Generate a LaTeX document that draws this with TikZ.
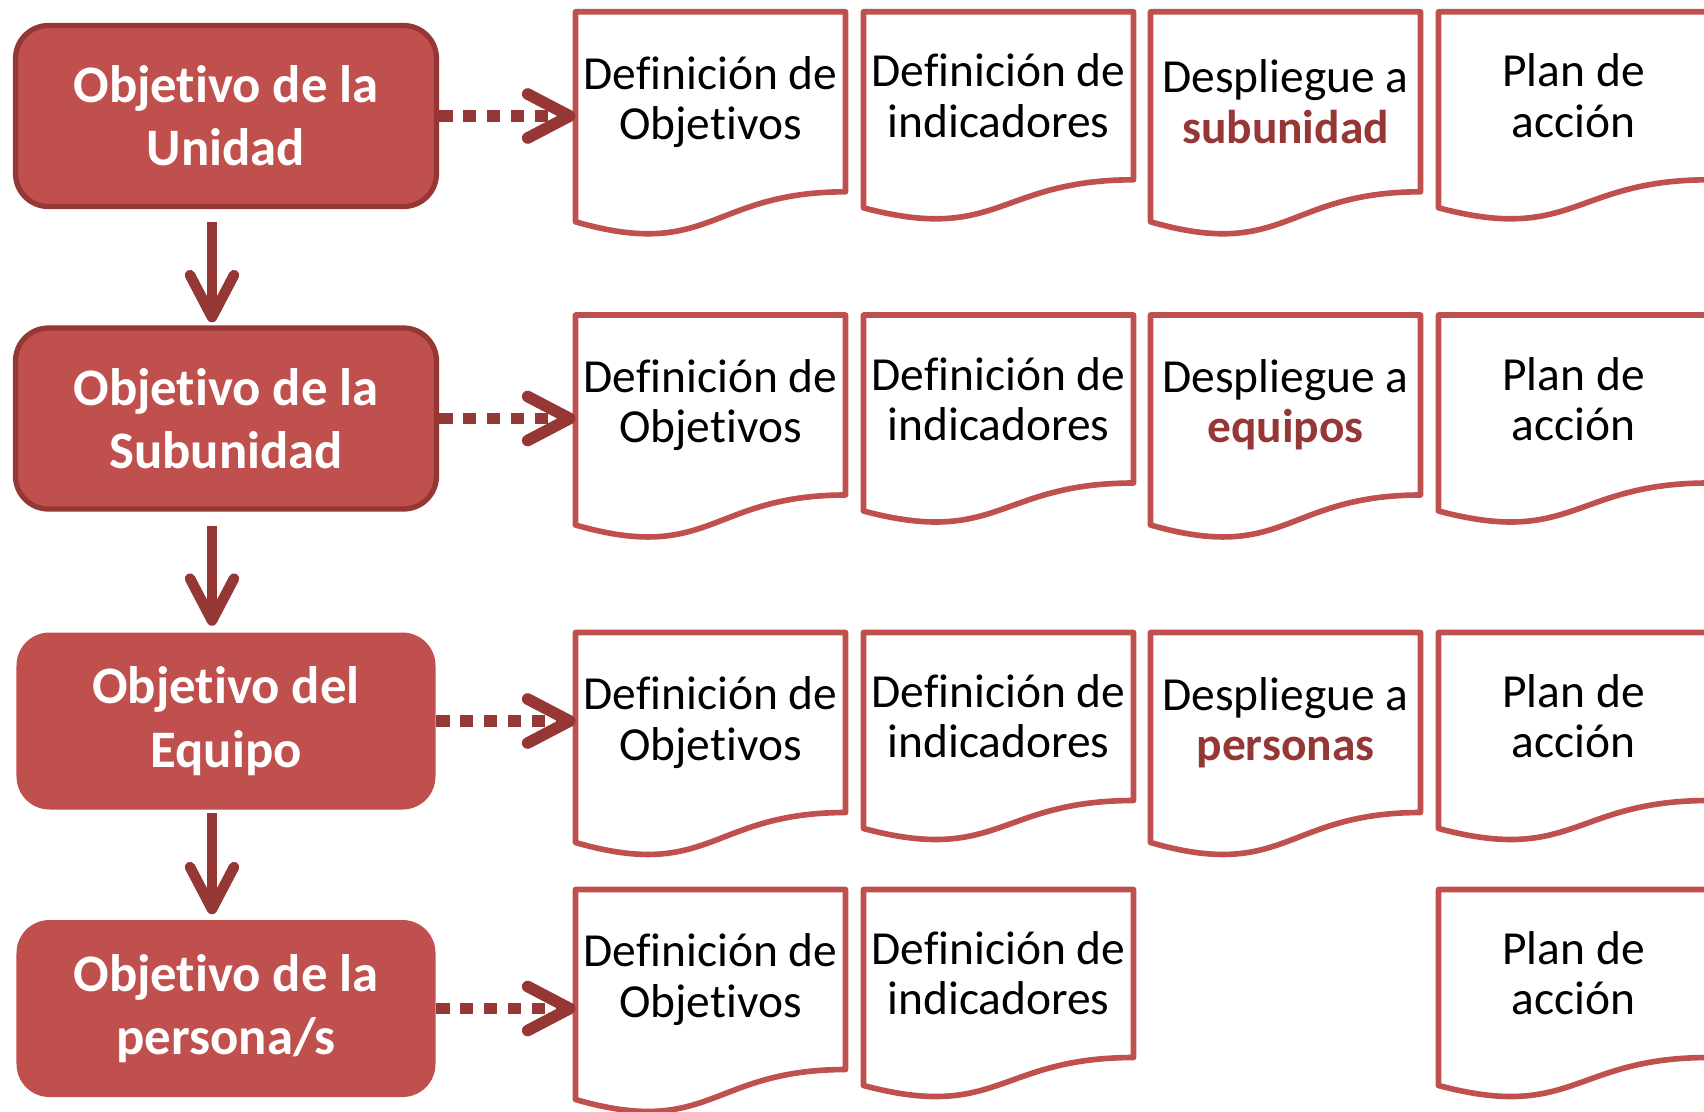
\documentclass[tikz,border=0pt]{standalone}
\usepackage{fontspec}
\setmainfont{Carlito}[Ligatures=NoCommon]
\usepackage{tikz}
\usetikzlibrary{arrows.meta}

\definecolor{boxred}{RGB}{192,80,77}
\definecolor{darkred}{RGB}{149,55,53}

\begin{document}
\begin{tikzpicture}[
		objnode/.style={fill=boxred, text=white, rounded corners=3.3mm, align=center, minimum width=4.19cm, minimum height=1.77cm, font=\fontsize{15}{18}\selectfont\bfseries},
		objframe/.style={objnode, draw=darkred, line width=1.5pt, minimum width=4.21cm, minimum height=1.81cm},
		docnode/.style={anchor=north, align=center, minimum width=2.7cm, minimum height=1.8cm, inner sep=0pt, outer sep=0pt, font=\fontsize{13.5}{14.3}\selectfont},
		docshort/.style={docnode, minimum height=1.68cm},
		docline/.style={draw=boxred, line width=1.6pt, line join=round},
		vlink/.style={draw=darkred, line width=3pt, -{Straight Barb[length=4.2mm, width=4.4mm, round]}},
		dlink/.style={vlink, line width=3.3pt, dash pattern=on 3.8pt off 3pt}
	]
		\path[use as bounding box, fill=white] (0,0) rectangle (17.04,-11.11);

		% objetivos
		\node[objframe] (unidad) at (2.26,-1.16) {Objetivo de la\\Unidad};
		\node[objframe] (subunidad) at (2.26,-4.185) {Objetivo de la\\Subunidad};
		\node[objnode] (equipo) at (2.26,-7.21) {Objetivo del\\Equipo};
		\node[objnode] (persona) at (2.26,-10.085) {Objetivo de la\\persona/s};

		% documentos
		\node[docnode] (u1) at (7.105,-0.118) {Definición de\\Objetivos};
		\node[docshort] (u2) at (9.985,-0.118) {Definición de\\indicadores};
		\node[docnode] (u3) at (12.855,-0.118) {Despliegue a\\{\bfseries\color{darkred}subunidad}};
		\node[docshort] (u4) at (15.735,-0.118) {Plan de\\acción};

		\node[docnode] (s1) at (7.105,-3.15) {Definición de\\Objetivos};
		\node[docshort] (s2) at (9.985,-3.15) {Definición de\\indicadores};
		\node[docnode] (s3) at (12.855,-3.15) {Despliegue a\\{\bfseries\color{darkred}equipos}};
		\node[docshort] (s4) at (15.735,-3.15) {Plan de\\acción};

		\node[docnode] (e1) at (7.105,-6.325) {Definición de\\Objetivos};
		\node[docshort] (e2) at (9.985,-6.325) {Definición de\\indicadores};
		\node[docnode] (e3) at (12.855,-6.325) {Despliegue a\\{\bfseries\color{darkred}personas}};
		\node[docshort] (e4) at (15.735,-6.325) {Plan de\\acción};

		\node[docnode] (p1) at (7.105,-8.895) {Definición de\\Objetivos};
		\node[docshort] (p2) at (9.985,-8.895) {Definición de\\indicadores};
		\node[docshort] (p4) at (15.735,-8.895) {Plan de\\acción};

		\foreach \n/\bmp/\drp in {u1/0.69/0.30, u2/0.64/0.28, u3/0.69/0.30, u4/0.64/0.28,
				s1/0.69/0.30, s2/0.64/0.28, s3/0.69/0.30, s4/0.64/0.28,
				e1/0.69/0.30, e2/0.64/0.28, e3/0.69/0.30, e4/0.64/0.28,
				p1/0.69/0.30, p2/0.64/0.28, p4/0.64/0.28}
			\draw[docline] (\n.north west) -- (\n.north east) -- (\n.south east)
				.. controls (\n.south) and ([yshift=-\bmp cm]\n.south) .. ([yshift=-\drp cm]\n.south west) -- cycle;

		% flechas
		\draw[vlink] ([xshift=-1.4mm,yshift=-1.3mm]unidad.south) -- ([xshift=-1.4mm,yshift=0.3mm]subunidad.north);
		\draw[vlink] ([xshift=-1.4mm,yshift=-1.4mm]subunidad.south) -- ([xshift=-1.4mm,yshift=0.6mm]equipo.north);
		\draw[vlink] ([xshift=-1.4mm,yshift=-0.3mm]equipo.south) -- ([xshift=-1.4mm,yshift=0.5mm]persona.north);

		\draw[dlink] (unidad.east) -- (unidad.east -| u1.west);
		\draw[dlink] (subunidad.east) -- (subunidad.east -| s1.west);
		\draw[dlink] (equipo.east) -- (equipo.east -| e1.west);
		\draw[dlink] (persona.east) -- (persona.east -| p1.west);

\end{tikzpicture}
\end{document}
